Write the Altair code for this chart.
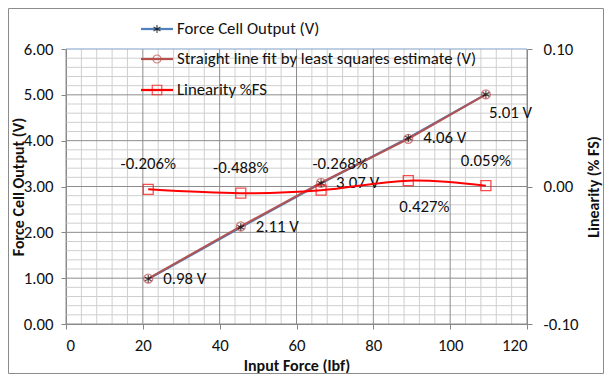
import altair as alt
import pandas as pd

# ---- data ----
force = [21.4, 45.5, 66.4, 89.1, 109.3]            # Input Force (lbf)
volts = [0.98, 2.11, 3.07, 4.06, 5.01]             # Force cell output (V)
fit_volts = [0.99, 2.13, 3.08, 4.04, 5.01]         # least squares fit (V)
linearity = [-0.00206, -0.00488, -0.00268, 0.00427, 0.00059]  # fraction of FS
series_names = ["Force Cell Output (V)",
                "Straight line fit by least squares estimate (V)",
                "Linearity %FS"]
x_ticks = [0, 20, 40, 60, 80, 100, 120]
y_left_ticks = [0, 1, 2, 3, 4, 5, 6]
y_right_ticks = [-0.1, 0.0, 0.1]

df = pd.DataFrame({"i": list(range(len(force))), "force": force, "volts": volts,
                   "fit": fit_volts, "lin": linearity})
one = pd.DataFrame({"k": [0]})

FONT = "Carlito, Lato, sans-serif"
FS = 16.8
TFS = 16
TXT = "#111111"
W, H = 461, 275
PADL, PADT = 58, 41
TOTW, TOTH = 596, 366

xs = alt.Scale(domain=[0, 120], nice=False, zero=False)
yl = alt.Scale(domain=[0, 6], nice=False, zero=False)
yr = alt.Scale(domain=[-0.1, 0.1], nice=False, zero=False)

minor_x = [v for v in range(0, 121, 4) if v % 20]
minor_y = [round(k * 0.2, 1) for k in range(31) if k % 5]

ASTER = "M0,-1L0,1M-0.87,-0.5L0.87,0.5M-0.87,0.5L0.87,-0.5"
MINUS = "replace(format(datum.value, '.2f'), '\u2212', '-')"

x_axis = alt.Axis(values=x_ticks, title="Input Force (lbf)", grid=False, format="d",
                  titleX=W / 2, titleY=41, titleBaseline="middle", titleAlign="center",
                  labelPadding=8, tickSize=5)
yl_axis = alt.Axis(orient="left", values=y_left_ticks, format=".2f", title="Force Cell Output (V)",
                   grid=False, titleX=-48, titleY=H / 2, titleAngle=270, titleAlign="center",
                   titleBaseline="middle", labelPadding=8, tickSize=5)
yr_axis = alt.Axis(orient="right", values=y_right_ticks, format=".2f", title="Linearity (% FS)",
                   grid=False, titleX=66, titleY=H / 2, titleAngle=270, titleAlign="center",
                   titleBaseline="middle", labelPadding=11, tickSize=5, labelAlign="left",
                   labelExpr=MINUS)

X = alt.X("force:Q", scale=xs, axis=x_axis)
YV = alt.Y("volts:Q", scale=yl, axis=None)
YF = alt.Y("fit:Q", scale=yl, axis=None)
YL = alt.Y("lin:Q", scale=yr, axis=None)

# ---- grid ----
g_vmin = alt.Chart(pd.DataFrame({"g": minor_x})).mark_rule(color="#CFCFCF", strokeWidth=1).encode(
    x=alt.X("g:Q", scale=xs, axis=x_axis))
g_vmaj = alt.Chart(pd.DataFrame({"g": x_ticks})).mark_rule(color="#8C8C8C", strokeWidth=1).encode(
    x=alt.X("g:Q", scale=xs, axis=x_axis))
g_hmin = alt.Chart(pd.DataFrame({"g": minor_y})).mark_rule(color="#CFCFCF", strokeWidth=1).encode(
    y=alt.Y("g:Q", scale=yl, axis=None))
g_hmaj = alt.Chart(pd.DataFrame({"g": y_left_ticks[:-1]})).mark_rule(color="#8C8C8C", strokeWidth=1).encode(
    y=alt.Y("g:Q", scale=yl, axis=None))
g_top = alt.Chart(pd.DataFrame({"g": y_left_ticks[-1:]})).mark_rule(color="#7F9FC6", strokeWidth=1).encode(
    y=alt.Y("g:Q", scale=yl, axis=None))

base = alt.Chart(df)

# ---- left-axis series ----
v_line = base.mark_line(color="#4F81BD", strokeWidth=2.25).encode(
    x=X, y=alt.Y("volts:Q", scale=yl, axis=yl_axis))
fit_line = base.mark_line(color="#B5504C", strokeWidth=2.25, opacity=0.92).encode(x=X, y=YF)
fit_pts = base.mark_point(shape="circle", filled=False, color="#C0504D", size=80,
                          strokeWidth=1.3).encode(x=X, y=YF)
v_pts = base.mark_point(shape=ASTER, filled=False, color="#000000", size=64,
                        strokeWidth=1.2).encode(x=X, y=YV)

v_lab = base.transform_calculate(lab="format(datum.volts, '.2f') + ' V'")
v_lab_a = v_lab.transform_filter("datum.i < 4").mark_text(
    align="left", baseline="middle", dx=15, font=FONT, fontSize=FS, color=TXT).encode(
    x=X, y=YV, text="lab:N")
v_lab_b = v_lab.transform_filter("datum.i == 4").mark_text(
    align="left", baseline="middle", dx=3, dy=19, font=FONT, fontSize=FS, color=TXT).encode(
    x=X, y=YV, text="lab:N")

# ---- right-axis series ----
l_line = base.mark_line(color="#FF0000", strokeWidth=2, interpolate="cardinal").encode(
    x=X, y=alt.Y("lin:Q", scale=yr, axis=yr_axis))
l_pts = base.mark_point(shape="square", filled=False, color="#FF0000", size=100,
                        strokeWidth=1.3).encode(x=X, y=YL)
l_lab = base.transform_calculate(lab="replace(format(datum.lin, '.3%'), '\u2212', '-')")
l_lab_a = l_lab.transform_filter("datum.i == 0 || datum.i == 1 || datum.i == 4").mark_text(
    align="center", baseline="middle", dy=-25, font=FONT, fontSize=FS, color=TXT).encode(
    x=X, y=YL, text="lab:N")
l_lab_b = l_lab.transform_filter("datum.i == 2").mark_text(
    align="center", baseline="middle", dx=19, dy=-26, font=FONT, fontSize=FS, color=TXT).encode(
    x=X, y=YL, text="lab:N")
l_lab_c = l_lab.transform_filter("datum.i == 3").mark_text(
    align="center", baseline="middle", dx=16, dy=26, font=FONT, fontSize=FS, color=TXT).encode(
    x=X, y=YL, text="lab:N")

# ---- legend (drawn by hand) ----
leg_rows = [-20, 10, 41]
leg_cols = ["#4F81BD", "#B5504C", "#FF0000"]
legend_layers = []
for name, yy, col, shp, mcol in zip(series_names, leg_rows, leg_cols,
                                     [ASTER, "circle", "square"],
                                     ["#000000", "#C0504D", "#FF0000"]):
    legend_layers.append(alt.Chart(one).mark_rule(color=col, strokeWidth=2.25).encode(
        x=alt.value(75), x2=alt.value(107), y=alt.value(yy)))
    legend_layers.append(alt.Chart(one).mark_point(
        shape=shp, filled=False, color=mcol, size=64 if shp != "square" else 90,
        strokeWidth=1.2).encode(x=alt.value(91), y=alt.value(yy)))
    legend_layers.append(alt.Chart(one).mark_text(
        align="left", baseline="middle", font=FONT, fontSize=FS, color=TXT).encode(
        x=alt.value(111), y=alt.value(yy), text=alt.value(name)))

border = alt.Chart(one).mark_rect(filled=False, color="#8C8C8C", strokeWidth=1).encode(
    x=alt.value(-PADL + 0.5), y=alt.value(-PADT + 0.5),
    x2=alt.value(TOTW - PADL - 0.5), y2=alt.value(TOTH - PADT - 0.5))

chart = alt.layer(
    g_vmin, g_hmin, g_vmaj, g_hmaj, g_top,
    v_line, fit_line, v_pts, fit_pts, v_lab_a, v_lab_b,
    l_line, l_pts, l_lab_a, l_lab_b, l_lab_c,
    border, *legend_layers,
).resolve_scale(y="independent").properties(
    width=W, height=H,
    autosize=alt.AutoSizeParams(type="none"),
    padding={"left": PADL, "top": PADT, "right": TOTW - PADL - W, "bottom": TOTH - PADT - H},
    background="white",
).configure_view(stroke=None).configure_axis(
    labelFont=FONT, labelFontSize=FS, labelColor=TXT,
    titleFont=FONT, titleFontSize=TFS, titleFontWeight="bold", titleColor=TXT,
    domainColor="#868686", tickColor="#868686", domainWidth=1, tickWidth=1,
)

chart.save("out.html", embed_options={"renderer": "svg", "actions": False})
